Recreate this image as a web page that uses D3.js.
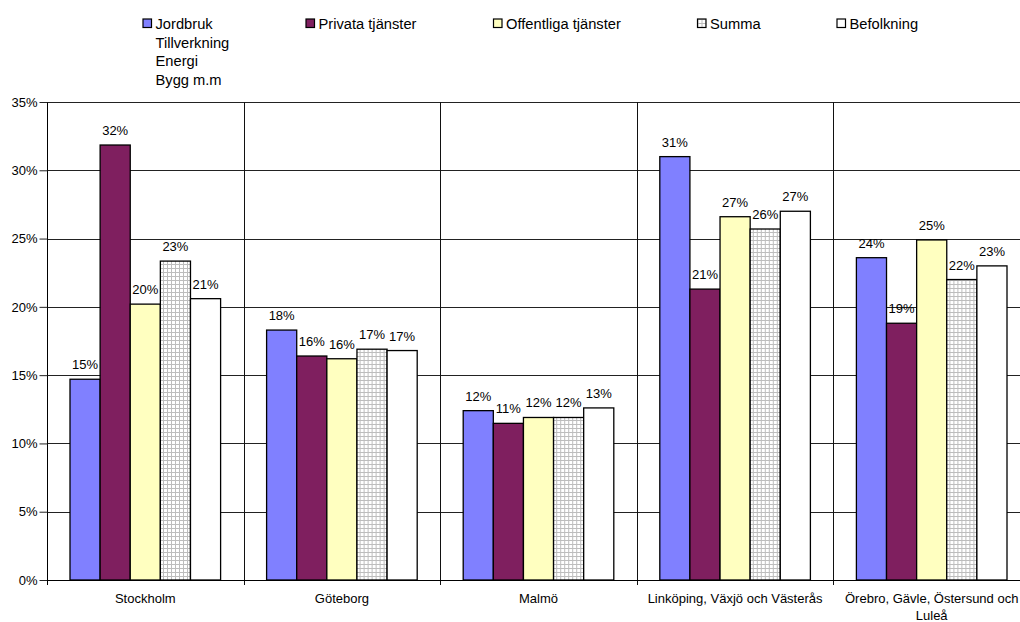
<!DOCTYPE html>
<html>
<head>
<meta charset="utf-8">
<script src="https://cdn.jsdelivr.net/npm/d3@7"></script>
<style>
  html, body { margin: 0; padding: 0; background: #fff; }
  svg { display: block; font-family: "Liberation Sans", Arial, sans-serif; }
</style>
</head>
<body>
<svg id="chart" width="1020" height="622"></svg>
<script>
// Regions (x categories)
const regions = [
  "Stockholm",
  "Göteborg",
  "Malmö",
  "Linköping, Växjö och Västerås",
  "Örebro, Gävle, Östersund och Luleå"
];

// Series names (legend text, line breaks shown as separate lines)
const seriesNames = [
  "Jordbruk\nTillverkning\nEnergi\nBygg m.m",
  "Privata tjänster",
  "Offentliga tjänster",
  "Summa",
  "Befolkning"
];

// Share per region, in percent, one array per series
const jordbruk   = [14.7, 18.3, 12.4, 31.0, 23.6];
const privata    = [31.85, 16.4, 11.47, 21.3, 18.8];
const offentliga = [20.2, 16.2, 11.9, 26.6, 24.9];
const summa      = [23.35, 16.9, 11.9, 25.7, 22.0];
const befolkning = [20.6, 16.8, 12.6, 27.0, 23.0];

const yTicks = [0, 5, 10, 15, 20, 25, 30, 35];

const seriesValues = [jordbruk, privata, offentliga, summa, befolkning];
const fills = ["#8080FF", "#7F1F5F", "#FFFFC0", "url(#summaGrid)", "#FFFFFF"];

const svg = d3.select("#chart");

// Grid pattern for the "Summa" series
const defs = svg.append("defs");
const pat = defs.append("pattern")
  .attr("id", "summaGrid")
  .attr("patternUnits", "userSpaceOnUse")
  .attr("width", 4).attr("height", 4);
pat.append("rect").attr("width", 4).attr("height", 4).attr("fill", "#fff");
pat.append("path").attr("d", "M0,0.5H4M0.5,0V4")
  .attr("stroke", "#bdbdbd").attr("stroke-width", 1).attr("fill", "none");

const plot = { left: 47, right: 1030, top: 102, bottom: 580 };

const x0 = d3.scaleBand().domain(regions).range([plot.left, plot.right]).padding(0);
const x1 = d3.scaleBand().domain(d3.range(seriesNames.length))
  .range([23, x0.bandwidth() - 23]).padding(0);
const y = d3.scaleLinear().domain([0, 35]).range([plot.bottom, plot.top]);

// Horizontal gridlines
svg.append("g").selectAll("line").data(yTicks).join("line")
  .attr("x1", plot.left).attr("x2", plot.right)
  .attr("y1", d => Math.round(y(d)) + 0.5).attr("y2", d => Math.round(y(d)) + 0.5)
  .attr("stroke", "#222").attr("stroke-width", 1);

// Vertical separators between regions
svg.append("g").selectAll("line").data(regions.slice(1)).join("line")
  .attr("x1", d => Math.round(x0(d)) + 0.5).attr("x2", d => Math.round(x0(d)) + 0.5)
  .attr("y1", plot.top).attr("y2", plot.bottom + 5)
  .attr("stroke", "#111").attr("stroke-width", 1);

// Bars
const groups = svg.append("g").selectAll("g").data(regions).join("g")
  .attr("transform", d => `translate(${x0(d)},0)`);

groups.selectAll("rect")
  .data((d, i) => seriesValues.map((vals, s) => ({ s, v: vals[i] })))
  .join("rect")
  .attr("x", d => x1(d.s))
  .attr("width", x1.bandwidth())
  .attr("y", d => y(d.v))
  .attr("height", d => y(0) - y(d.v))
  .attr("fill", d => fills[d.s])
  .attr("stroke", "#000")
  .attr("stroke-width", 1.3);

// Value labels
const fmt = v => d3.format(".0f")(v) + "%";
groups.selectAll("text.val")
  .data((d, i) => seriesValues.map((vals, s) => ({ s, v: vals[i] })))
  .join("text")
  .attr("class", "val")
  .attr("x", d => x1(d.s) + x1.bandwidth() / 2)
  .attr("y", d => y(d.v) - 10)
  .attr("text-anchor", "middle")
  .attr("font-size", 13)
  .attr("fill", "#000")
  .text(d => fmt(d.v));

// Y axis
const yAxis = d3.axisLeft(y).tickValues(yTicks).tickSize(8).tickPadding(2)
  .tickFormat(d => d + "%");
const gy = svg.append("g").attr("transform", `translate(${plot.left + 0.5},0)`).call(yAxis);
gy.select(".domain").attr("stroke", "#000").attr("d", `M0,${plot.top}V${plot.bottom}`);
gy.selectAll(".tick line").attr("stroke", "#222");
gy.selectAll(".tick text").attr("font-size", 13).attr("font-family", "Liberation Sans, Arial, sans-serif").attr("fill", "#000");

// X axis baseline and ticks at region boundaries
svg.append("line")
  .attr("x1", plot.left).attr("x2", plot.right)
  .attr("y1", plot.bottom + 0.5).attr("y2", plot.bottom + 0.5)
  .attr("stroke", "#000").attr("stroke-width", 1.2);
svg.append("line")
  .attr("x1", plot.left + 0.5).attr("x2", plot.left + 0.5)
  .attr("y1", plot.bottom).attr("y2", plot.bottom + 5)
  .attr("stroke", "#000");

// Region labels, wrapped to the band width
const xl = svg.append("g").selectAll("text").data(regions).join("text")
  .attr("x", d => x0(d) + x0.bandwidth() / 2)
  .attr("y", 603)
  .attr("text-anchor", "middle")
  .attr("font-size", 13)
  .attr("fill", "#000");

xl.each(function(d) {
  const t = d3.select(this);
  const cx = x0(d) + x0.bandwidth() / 2;
  const words = d.split(" ");
  let line = [];
  let tspan = t.append("tspan").attr("x", cx).attr("dy", 0);
  words.forEach(w => {
    line.push(w);
    tspan.text(line.join(" "));
    if (tspan.node().getComputedTextLength() > x0.bandwidth() - 4 && line.length > 1) {
      line.pop();
      tspan.text(line.join(" "));
      line = [w];
      tspan = t.append("tspan").attr("x", cx).attr("dy", 16.5).text(w);
    }
  });
});

// Legend
const legendX = [143, 306, 493.5, 697.5, 837];
const legend = svg.append("g").selectAll("g").data(seriesNames).join("g")
  .attr("transform", (d, i) => `translate(${legendX[i]},19)`);
legend.append("rect")
  .attr("width", 8.5).attr("height", 8.5)
  .attr("fill", (d, i) => fills[i])
  .attr("stroke", "#000").attr("stroke-width", 1.2);
legend.append("text")
  .attr("x", 12.5).attr("y", 10)
  .attr("font-size", 14.7)
  .attr("fill", "#000")
  .each(function(d) {
    const t = d3.select(this);
    d.split("\n").forEach((ln, k) => {
      t.append("tspan").attr("x", 12.5).attr("dy", k === 0 ? 0 : 18.5).text(ln);
    });
  });
</script>
</body>
</html>
